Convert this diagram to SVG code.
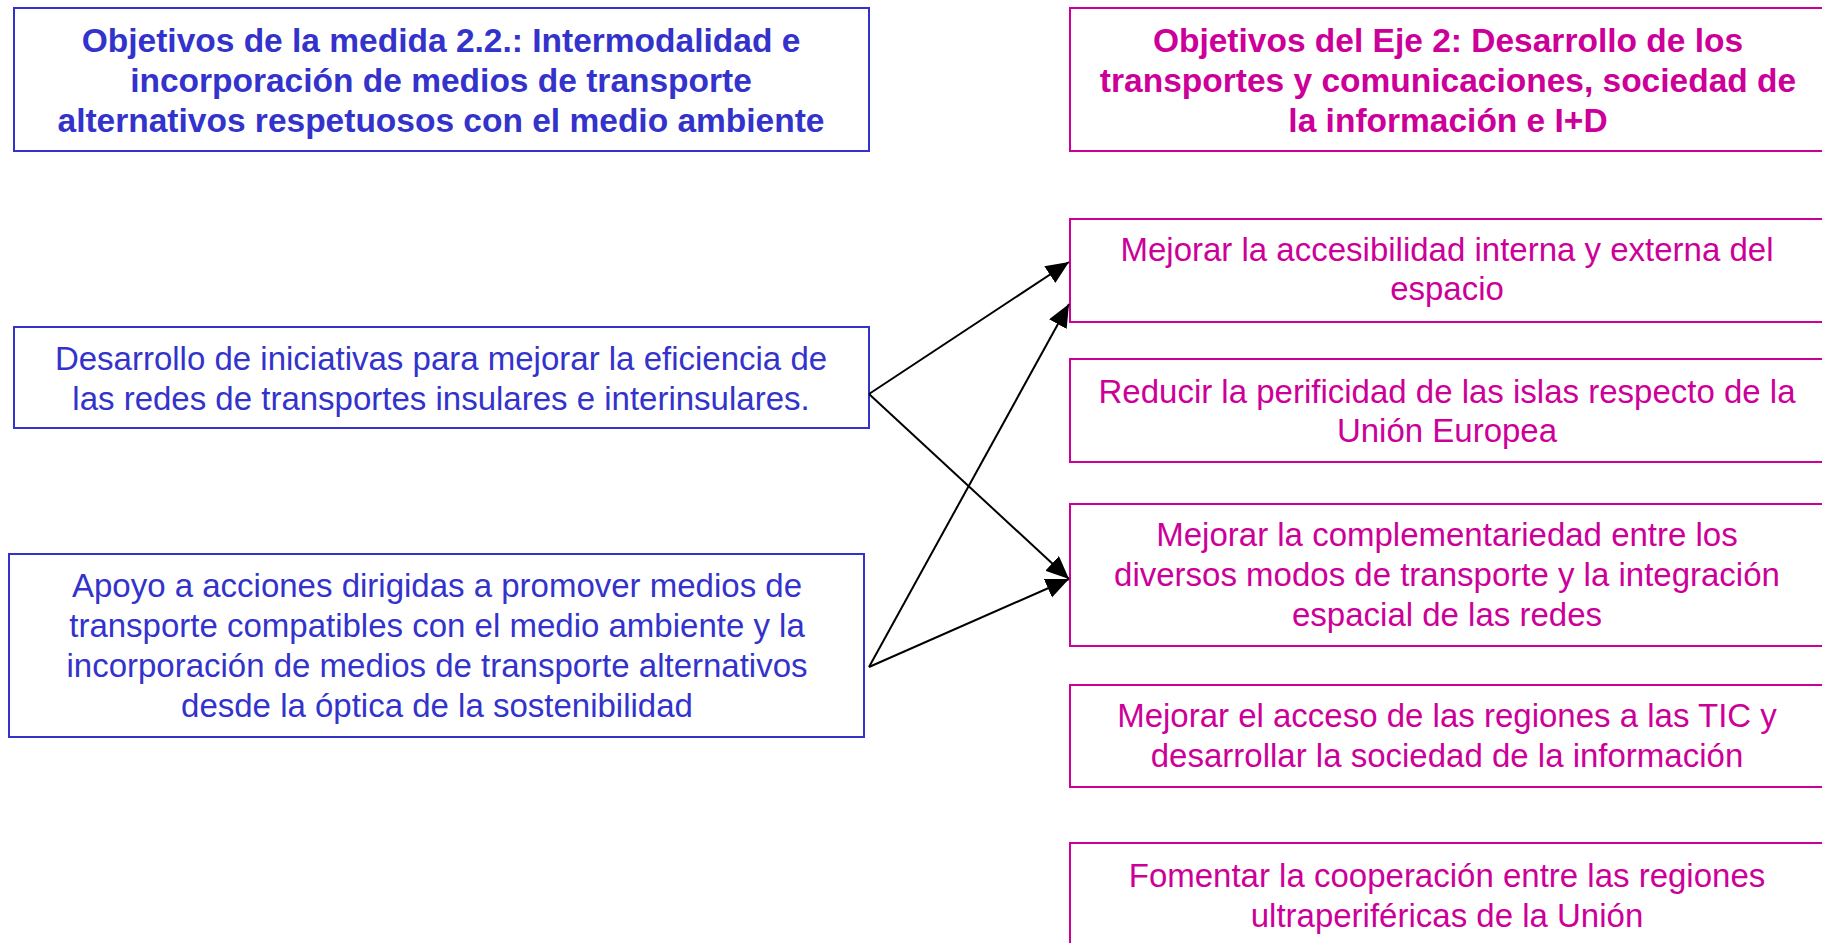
<svg xmlns="http://www.w3.org/2000/svg" width="1822" height="943" viewBox="0 0 1822 943">
<style>
.bg{fill:#FFFFFF}
.lbox{fill:#FFFFFF;stroke:#3333CC;stroke-width:2}
.rbox{fill:#FFFFFF;stroke:#CC0099;stroke-width:2}
.lt{font-family:"Liberation Sans",Arial,sans-serif;font-size:33px;fill:#3333CC;text-anchor:middle}
.rt{font-family:"Liberation Sans",Arial,sans-serif;font-size:33px;fill:#CC0099;text-anchor:middle}
.b{font-weight:bold;font-size:33.5px}
.conn{stroke:#000000;stroke-width:2;fill:none;marker-end:url(#ah)}
</style>
<defs>
<marker id="ah" markerUnits="userSpaceOnUse" markerWidth="25" markerHeight="22" refX="23" refY="10" orient="auto">
<path d="M0,0 L23,10 L0,20 z" fill="#000000"/>
</marker>
</defs>
<rect class="bg" x="0" y="0" width="1822" height="943"/>

<g id="left-title">
<rect class="lbox" x="14" y="8" width="855" height="143"/>
<text class="lt b" x="441" y="52">Objetivos de la medida 2.2.: Intermodalidad e</text>
<text class="lt b" x="441" y="92">incorporación de medios de transporte</text>
<text class="lt b" x="441" y="132">alternativos respetuosos con el medio ambiente</text>
</g>

<g id="right-title">
<rect class="rbox" x="1070" y="8" width="756" height="143"/>
<text class="rt b" x="1448" y="52">Objetivos del Eje 2: Desarrollo de los</text>
<text class="rt b" x="1448" y="92">transportes y comunicaciones, sociedad de</text>
<text class="rt b" x="1448" y="132">la información e I+D</text>
</g>

<g id="left-a">
<rect class="lbox" x="14" y="327" width="855" height="101"/>
<text class="lt" x="441" y="370">Desarrollo de iniciativas para mejorar la eficiencia de</text>
<text class="lt" x="441" y="410">las redes de transportes insulares e interinsulares.</text>
</g>

<g id="left-b">
<rect class="lbox" x="9" y="554" width="855" height="183"/>
<text class="lt" x="437" y="597">Apoyo a acciones dirigidas a promover medios de</text>
<text class="lt" x="437" y="637">transporte compatibles con el medio ambiente y la</text>
<text class="lt" x="437" y="677">incorporación de medios de transporte alternativos</text>
<text class="lt" x="437" y="717">desde la óptica de la sostenibilidad</text>
</g>

<g id="right-1">
<rect class="rbox" x="1070" y="219" width="756" height="103"/>
<text class="rt" x="1447" y="261">Mejorar la accesibilidad interna y externa del</text>
<text class="rt" x="1447" y="300">espacio</text>
</g>

<g id="right-2">
<rect class="rbox" x="1070" y="359" width="756" height="103"/>
<text class="rt" x="1447" y="403">Reducir la perificidad de las islas respecto de la</text>
<text class="rt" x="1447" y="442">Unión Europea</text>
</g>

<g id="right-3">
<rect class="rbox" x="1070" y="504" width="756" height="142"/>
<text class="rt" x="1447" y="546">Mejorar la complementariedad entre los</text>
<text class="rt" x="1447" y="586">diversos modos de transporte y la integración</text>
<text class="rt" x="1447" y="626">espacial de las redes</text>
</g>

<g id="right-4">
<rect class="rbox" x="1070" y="685" width="756" height="102"/>
<text class="rt" x="1447" y="727">Mejorar el acceso de las regiones a las TIC y</text>
<text class="rt" x="1447" y="767">desarrollar la sociedad de la información</text>
</g>

<g id="right-5">
<rect class="rbox" x="1070" y="843" width="756" height="104"/>
<text class="rt" x="1447" y="887">Fomentar la cooperación entre las regiones</text>
<text class="rt" x="1447" y="927">ultraperiféricas de la Unión</text>
</g>

<g id="connectors">
<line class="conn" x1="869" y1="394" x2="1069" y2="262"/>
<line class="conn" x1="869" y1="394" x2="1069" y2="579"/>
<line class="conn" x1="869" y1="667" x2="1069" y2="304"/>
<line class="conn" x1="869" y1="667" x2="1069" y2="579"/>
</g>
</svg>
